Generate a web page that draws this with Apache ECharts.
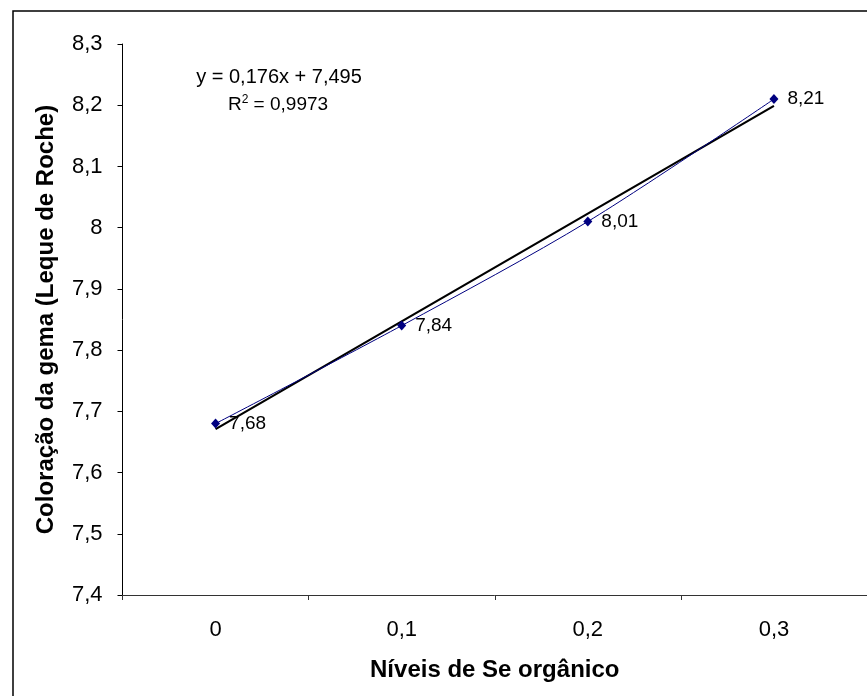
<!DOCTYPE html>
<html>
<head>
<meta charset="utf-8">
<script src="https://cdn.jsdelivr.net/npm/echarts@6/dist/echarts.min.js"></script>
<style>
html,body{margin:0;padding:0;background:#fff;}
#chart{width:867px;height:696px;}
</style>
</head>
<body>
<div id="chart"></div>
<script>
const categories = ['0', '0,1', '0,2', '0,3'];
const values = [7.68, 7.84, 8.01, 8.21];
const trendValues = [7.671, 7.847, 8.023, 8.199];
const valueLabels = ['7,68', '7,84', '8,01', '8,21'];
const yMin = 7.4, yMax = 8.3, yStep = 0.1;
const equationText = 'y = 0,176x + 7,495';
const r2Text = '0,9973';
const xTitle = 'Níveis de Se orgânico';
const yTitle = 'Coloração da gema (Leque de Roche)';

const FONT = '"Liberation Sans", Arial, sans-serif';
const chart = echarts.init(document.getElementById('chart'), null, {renderer: 'canvas'});

chart.setOption({
  animation: false,
  backgroundColor: '#fff',
  textStyle: {fontFamily: FONT},
  grid: {left: 122.5, right: -1.5, top: 44, bottom: 101, containLabel: false},
  xAxis: {
    type: 'category',
    data: categories,
    boundaryGap: true,
    name: xTitle,
    nameLocation: 'middle',
    nameGap: 63,
    nameTextStyle: {fontFamily: FONT, fontSize: 24, fontWeight: 'bold', color: '#000'},
    axisLine: {lineStyle: {color: '#333', width: 1}},
    axisTick: {show: true, inside: false, length: 5, lineStyle: {color: '#333'}},
    axisLabel: {fontFamily: FONT, fontSize: 22, color: '#000', margin: 24},
    splitLine: {show: false}
  },
  yAxis: {
    type: 'value',
    min: yMin, max: yMax, interval: yStep,
    name: yTitle,
    nameLocation: 'middle',
    nameGap: 64,
    nameRotate: 90,
    nameTextStyle: {fontFamily: FONT, fontSize: 24, fontWeight: 'bold', color: '#000'},
    axisLine: {show: true, lineStyle: {color: '#000', width: 1}},
    axisTick: {show: true, inside: false, length: 5, lineStyle: {color: '#000'}},
    axisLabel: {
      fontFamily: FONT, fontSize: 22, color: '#000', margin: 20,
      formatter: v => String(+(+v).toFixed(1)).replace('.', ',')
    },
    splitLine: {show: false}
  },
  series: [
    {
      name: 'trend',
      type: 'line',
      data: trendValues,
      symbol: 'none',
      lineStyle: {color: '#000', width: 2.2},
      z: 3
    },
    {
      name: 'data',
      type: 'line',
      data: values,
      smooth: 0.3,
      symbol: 'diamond',
      symbolSize: [9, 10],
      itemStyle: {color: '#000080'},
      lineStyle: {color: '#000080', width: 1},
      label: {
        show: true, position: 'right', distance: 9,
        fontFamily: FONT, fontSize: 19, color: '#000',
        formatter: p => valueLabels[p.dataIndex]
      },
      z: 4
    }
  ],
  graphic: [
    {
      type: 'rect', silent: true,
      shape: {x: 13, y: 11, width: 1000, height: 1000},
      style: {fill: 'none', stroke: '#000', lineWidth: 1.5}
    },
    {
      type: 'text', x: 279, y: 77,
      style: {text: equationText, font: '20px ' + FONT, fill: '#000', align: 'center', verticalAlign: 'middle'}
    },
    {
      type: 'text', x: 278, y: 105,
      style: {
        text: '{a|R}{s|2}{a| = ' + r2Text + '}',
        align: 'center', verticalAlign: 'middle',
        rich: {
          a: {fontFamily: FONT, fontSize: 19, color: '#000'},
          s: {fontFamily: FONT, fontSize: 12, color: '#000', verticalAlign: 'top', padding: [0, 0, 10, 0]}
        }
      }
    }
  ]
});
</script>
</body>
</html>
